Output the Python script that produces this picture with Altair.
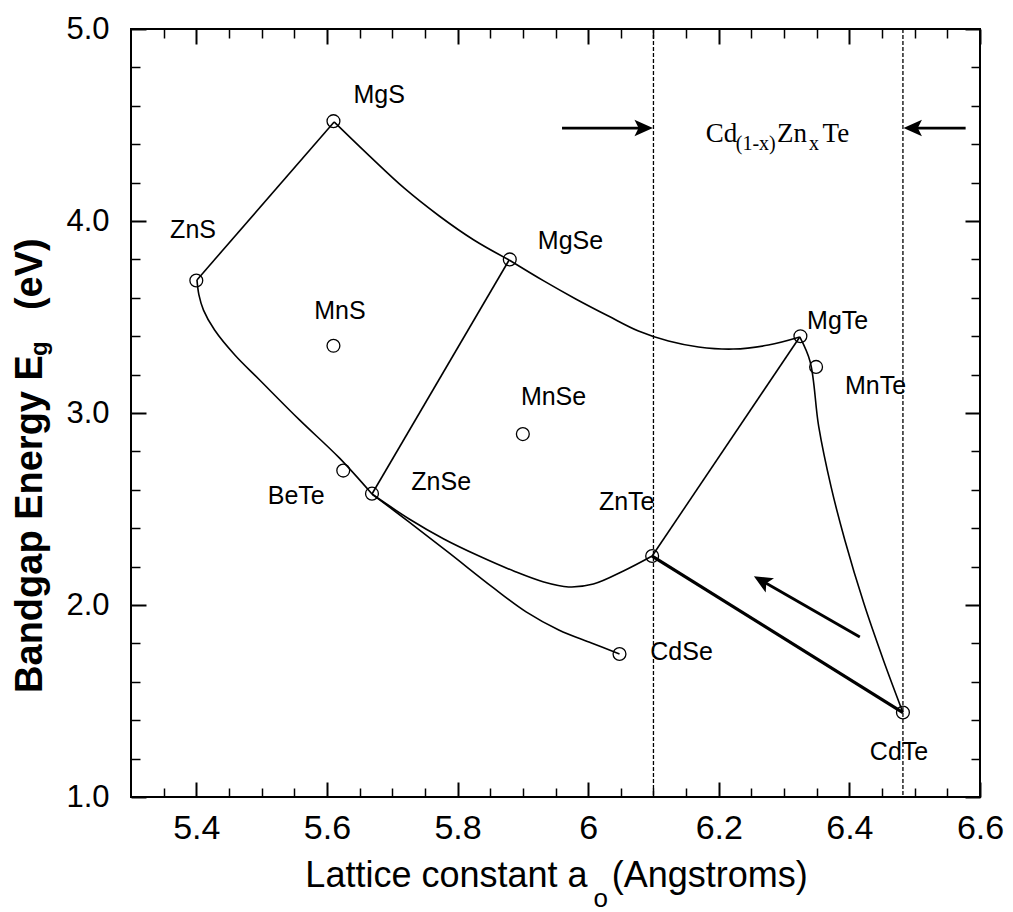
import altair as alt
import pandas as pd

# ---------------- data ----------------
compounds = ["ZnS", "MgS", "MgSe", "MnS", "MnSe", "BeTe", "ZnSe", "ZnTe", "MgTe", "MnTe", "CdSe", "CdTe"]
lattice = [5.40, 5.61, 5.88, 5.61, 5.90, 5.625, 5.669, 6.098, 6.325, 6.349, 6.048, 6.482]
bandgap = [3.69, 4.52, 3.80, 3.35, 2.89, 2.70, 2.58, 2.255, 3.40, 3.24, 1.745, 1.44]
label_x = [5.395, 5.680, 5.973, 5.62, 5.947, 5.553, 5.775, 6.059, 6.382, 6.440, 6.143, 6.476]
label_y = [3.953, 4.656, 3.896, 3.53, 3.083, 2.57, 2.64, 2.536, 3.479, 3.140, 1.755, 1.234]

# alloy curves (x = lattice constant, y = band gap)
zns_mgs_x = [5.401, 5.611]
zns_mgs_y = [3.693, 4.516]
mgs_mgse_x = [5.611, 5.665, 5.718, 5.772, 5.825, 5.879]
mgs_mgse_y = [4.516, 4.339, 4.172, 4.026, 3.901, 3.797]
mgse_mgte_x = [5.879, 5.932, 5.981, 6.031, 6.077, 6.123, 6.169, 6.222, 6.276, 6.324]
mgse_mgte_y = [3.797, 3.688, 3.594, 3.505, 3.427, 3.375, 3.344, 3.333, 3.354, 3.396]
zns_znse_x = [5.401, 5.404, 5.411, 5.428, 5.459, 5.497, 5.558, 5.619, 5.669]
zns_znse_y = [3.693, 3.615, 3.536, 3.432, 3.302, 3.172, 2.964, 2.766, 2.578]
znse_mgse_x = [5.669, 5.879]
znse_mgse_y = [2.578, 3.797]
znse_znte_x = [5.669, 5.726, 5.779, 5.833, 5.886, 5.932, 5.970, 6.008, 6.054, 6.098]
znse_znte_y = [2.578, 2.448, 2.344, 2.255, 2.177, 2.120, 2.094, 2.109, 2.177, 2.255]
znse_cdse_x = [5.669, 5.726, 5.787, 5.853, 5.905, 5.955, 6.005, 6.048]
znse_cdse_y = [2.578, 2.432, 2.271, 2.094, 1.964, 1.870, 1.802, 1.745]
znte_mgte_x = [6.098, 6.324]
znte_mgte_y = [2.255, 3.396]
mgte_cdte_x = [6.324, 6.340, 6.353, 6.372, 6.393, 6.422, 6.452, 6.482]
mgte_cdte_y = [3.396, 3.266, 2.930, 2.615, 2.339, 2.010, 1.714, 1.440]
znte_cdte_x = [6.098, 6.482]
znte_cdte_y = [2.255, 1.440]

# CdZnTe composition range boundaries
bounds = [6.100, 6.482]

# arrows: shaft tail -> head centre, head direction
arrow_x = [5.960, 6.578, 6.416]
arrow_y = [4.484, 4.484, 1.833]
arrow_x2 = [6.085, 6.497, 6.266]
arrow_y2 = [4.484, 4.484, 2.126]
arrow_angle = [0, 180, 210]

# Cd(1-x)ZnxTe label pieces
formula_text = ["Cd", "(1-x)", "Zn", "x", "Te"]
formula_x = [6.180, 6.226, 6.289, 6.338, 6.359]
formula_y = [4.413, 4.372, 4.413, 4.372, 4.413]
formula_size = [27, 20, 27, 20, 27]

# axis title pieces
xtitle_text = ["Lattice constant  a", "o", "(Angstroms)"]
xtitle_x = [5.567, 6.008, 6.036]
xtitle_y = [0.531, 0.427, 0.531]
xtitle_size = [36, 26, 36]
ytitle_text = ["Bandgap Energy E", "g", "(eV)"]
ytitle_x = [5.164, 5.172, 5.164]
ytitle_y = [1.542, 3.297, 3.536]
ytitle_size = [38, 24, 38]

# ticks
x_major = [5.4, 5.6, 5.8, 6.0, 6.2, 6.4, 6.6]
x_minor = [5.35, 5.45, 5.5, 5.55, 5.65, 5.7, 5.75, 5.85, 5.9, 5.95, 6.05, 6.1, 6.15,
           6.25, 6.3, 6.35, 6.45, 6.5, 6.55]
y_major = [1.0, 2.0, 3.0, 4.0, 5.0]
y_minor = [1.2, 1.4, 1.6, 1.8, 2.2, 2.4, 2.6, 2.8, 3.2, 3.4, 3.6, 3.8, 4.2, 4.4, 4.6, 4.8]

# ---------------- tables ----------------
curves = [
    ("zns_mgs", zns_mgs_x, zns_mgs_y), ("mgs_mgse", mgs_mgse_x, mgs_mgse_y),
    ("mgse_mgte", mgse_mgte_x, mgse_mgte_y), ("zns_znse", zns_znse_x, zns_znse_y),
    ("znse_mgse", znse_mgse_x, znse_mgse_y), ("znse_znte", znse_znte_x, znse_znte_y),
    ("znse_cdse", znse_cdse_x, znse_cdse_y), ("znte_mgte", znte_mgte_x, znte_mgte_y),
    ("mgte_cdte", mgte_cdte_x, mgte_cdte_y),
]
rows = []
for name, xs_, ys_ in curves:
    for i, (a, b) in enumerate(zip(xs_, ys_)):
        rows.append({"curve": name, "i": i, "x": a, "y": b})
curve_df = pd.DataFrame(rows)
thick_df = pd.DataFrame({"x": znte_cdte_x, "y": znte_cdte_y, "i": [0, 1]})
pts_df = pd.DataFrame({"name": compounds, "x": lattice, "y": bandgap})
lab_df = pd.DataFrame({"name": compounds, "x": label_x, "y": label_y})
bound_df = pd.DataFrame({"x": bounds})
arrow_df = pd.DataFrame({"x": arrow_x, "y": arrow_y, "x2": arrow_x2, "y2": arrow_y2,
                         "angle": arrow_angle})
formula_df = pd.DataFrame({"t": formula_text, "x": formula_x, "y": formula_y, "s": formula_size})
xt_df = pd.DataFrame({"t": xtitle_text, "x": xtitle_x, "y": xtitle_y, "s": xtitle_size})
yt_df = pd.DataFrame({"t": ytitle_text, "x": ytitle_x, "y": ytitle_y, "s": ytitle_size})

XS = alt.Scale(domain=[5.3, 6.6], nice=False, zero=False)
YS = alt.Scale(domain=[1.0, 5.0], nice=False, zero=False)
FONT = "Liberation Sans"


def axis(orient, values, size, labels=False, fmt=None, fs=None, pad=None):
    kw = dict(orient=orient, values=values, tickSize=size, offset=-size,
              tickWidth=2 if size > 10 else 1.5, tickColor="black", domain=False,
              grid=False, labels=labels, title=None, ticks=True)
    if labels:
        kw.update(format=fmt, labelFontSize=fs, labelFont=FONT, labelColor="black",
                  labelPadding=pad, labelFlush=False, labelOverlap=False)
    return alt.Axis(**kw)


def X(field="x", ax=None):
    return alt.X(f"{field}:Q", scale=XS, axis=ax)


def Y(field="y", ax=None):
    return alt.Y(f"{field}:Q", scale=YS, axis=ax)


lines = alt.Chart(curve_df).mark_line(color="black", strokeWidth=1.6, interpolate="catmull-rom").encode(
    x=X(ax=axis("bottom", x_major, 15, True, "~g", 34, 14)),
    y=Y(ax=axis("left", y_major, 15, True, ".1f", 31, 22)),
    detail="curve:N", order="i:Q")

thick = alt.Chart(thick_df).mark_line(color="black", strokeWidth=3.2).encode(
    x=X(ax=axis("bottom", x_minor, 9)), y=Y(ax=axis("left", y_minor, 9)), order="i:Q")

dashed = alt.Chart(bound_df).mark_rule(color="black", strokeWidth=1.3, strokeDash=[4, 2]).encode(
    x=X(ax=None))

points = alt.Chart(pts_df).mark_point(shape="circle", filled=False, size=165, color="black",
                                       strokeWidth=1.3, opacity=1).encode(
    x=X(ax=axis("top", x_major, 15)), y=Y(ax=axis("right", y_major, 15)))

labels = alt.Chart(lab_df).mark_text(font=FONT, fontSize=25, color="black",
                                      align="center", baseline="middle").encode(
    x=X(ax=axis("top", x_minor, 9)), y=Y(ax=axis("right", y_minor, 9)), text="name:N")

shafts = alt.Chart(arrow_df).mark_rule(color="black", strokeWidth=2.8).encode(
    x=X(ax=None), y=Y(ax=None), x2="x2:Q", y2="y2:Q")

heads = alt.Chart(arrow_df).mark_point(shape="M1,0 L-1,-0.9 L-0.55,0 L-1,0.9 Z", filled=True,
                                        size=340, color="black", opacity=1).encode(
    x=X("x2", None), y=Y("y2", None), angle=alt.Angle("angle:Q", scale=None))

formula = alt.Chart(formula_df).mark_text(font="Liberation Serif", color="black", align="left",
                                           baseline="alphabetic").encode(
    x=X(ax=None), y=Y(ax=None), text="t:N", size=alt.Size("s:Q", scale=None, legend=None))

xtitle = alt.Chart(xt_df).mark_text(font=FONT, color="black", align="left",
                                     baseline="alphabetic").encode(
    x=X(ax=None), y=Y(ax=None), text="t:N", size=alt.Size("s:Q", scale=None, legend=None))

ytitle = alt.Chart(yt_df).mark_text(font=FONT, fontWeight="bold", color="black", align="left",
                                     baseline="alphabetic", angle=270).encode(
    x=X(ax=None), y=Y(ax=None), text="t:N", size=alt.Size("s:Q", scale=None, legend=None))

chart = alt.layer(lines, thick, dashed, points, labels, shafts, heads, formula, xtitle, ytitle).resolve_scale(
    x="shared", y="shared").resolve_axis(x="independent", y="independent").properties(
    width=849, height=768,
    padding={"left": 131, "top": 29, "right": 33, "bottom": 115},
    autosize=alt.AutoSizeParams(type="none"),
    background="white",
).configure_view(stroke="black", strokeWidth=2)

chart.save("out.html", embed_options={"renderer": "svg", "actions": False})
